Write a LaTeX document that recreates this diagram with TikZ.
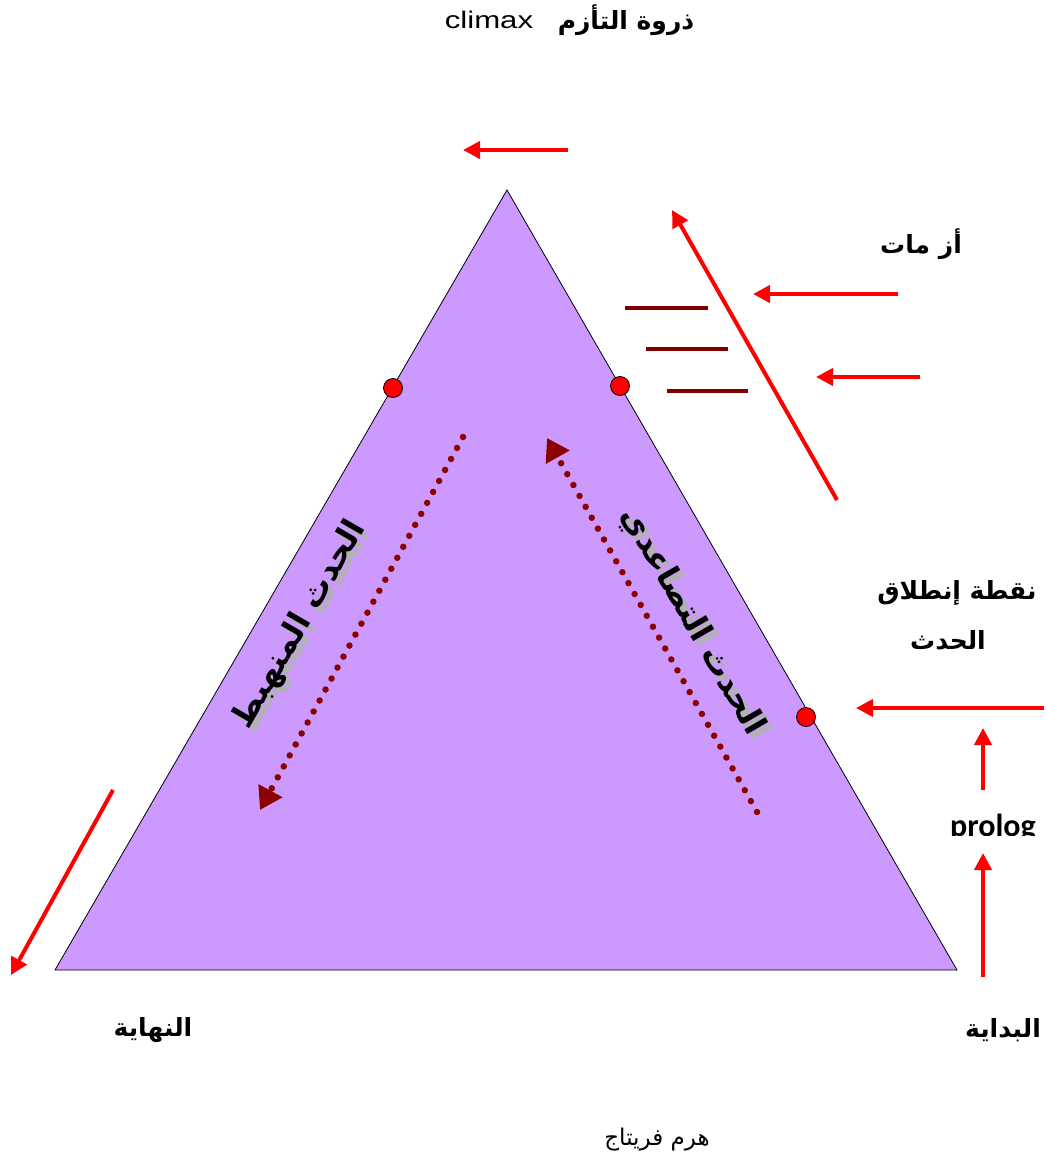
\documentclass[tikz,border=0pt]{standalone}
\usepackage{fontspec}
\setmainfont{Liberation Sans}
\newfontfamily\arabicfont[Script=Arabic]{DejaVu Sans}
\newfontfamily\carlito{Carlito}
\TeXXeTstate=1
\usetikzlibrary{arrows.meta}
\definecolor{lilac}{RGB}{204,153,255}
\definecolor{darkred}{RGB}{128,0,0}
\definecolor{dotred}{RGB}{140,0,0}
\begin{document}
\begin{tikzpicture}[x=1pt,y=-1pt,
  redarrow/.style={draw=red,line width=4pt,-{Triangle[length=17pt,width=17pt]}},
  barline/.style={draw=darkred,line width=4pt},
  dotarrow/.style={draw=dotred,line width=6.5pt,line cap=round,dash pattern=on 0pt off 12.5pt,
     -{Triangle[length=22pt,width=26pt]}},
  reddot/.style={circle,draw=black,fill=red,line width=0.8pt,minimum size=19pt,inner sep=0pt},
  arlabel/.style={font=\arabicfont\bfseries\fontsize{25}{29}\selectfont,inner sep=0pt},
  wordart/.style={font=\arabicfont\bfseries\fontsize{32}{36}\selectfont,inner sep=0pt}
]
\useasboundingbox (0,0) rectangle (1047,1164);
% triangle
\coordinate (A) at (55,970);
\coordinate (T) at (507,190);
\coordinate (C) at (957,970);
\fill[lilac] (A) -- (T) -- (C) -- cycle;
\draw[black,line width=0.8pt] (A) -- (T) -- (C) -- cycle;
% dotted arrows
\coordinate (fa1) at (463,437);
\coordinate (fa2) at (260,810);
\coordinate (ra1) at (757,812);
\coordinate (ra2) at (547,438);
\draw[dotarrow] (fa1) -- (fa2);
\draw[dotarrow] (ra1) -- (ra2);
% red dots
\node[reddot] (d1) at (393,388) {};
\node[reddot] (d2) at (620,386) {};
\node[reddot] (d3) at (806,717) {};
% rotated wordart texts
\node[wordart,text=black!30,rotate=60] (fallsh) at (305,630) {\beginR الحدث المنهبط\endR};
\node[wordart,rotate=60] (fall) at (300,625) {\beginR الحدث المنهبط\endR};
\node[wordart,text=black!30,rotate=-60] (risesh) at (697,627) {\beginR الحدث التصاعدي\endR};
\node[wordart,rotate=-60] (rise) at (692,622) {\beginR الحدث التصاعدي\endR};
% dark red bars
\coordinate (b1a) at (625,308); \coordinate (b1b) at (708,308);
\coordinate (b2a) at (646,349); \coordinate (b2b) at (728,349);
\coordinate (b3a) at (667,391); \coordinate (b3b) at (748,391);
\draw[barline] (b1a) -- (b1b);
\draw[barline] (b2a) -- (b2b);
\draw[barline] (b3a) -- (b3b);
% red arrows
\coordinate (t1) at (568,150); \coordinate (t2) at (463,150);
\draw[redarrow] (t1) -- (t2);
\coordinate (g1) at (837,500); \coordinate (g2) at (672,210);
\draw[redarrow] (g1) -- (g2);
\coordinate (h1) at (898,294); \coordinate (h2) at (753,294);
\draw[redarrow] (h1) -- (h2);
\coordinate (k1) at (920,377); \coordinate (k2) at (816,377);
\draw[redarrow] (k1) -- (k2);
\coordinate (m1) at (1044,708); \coordinate (m2) at (856,708);
\draw[redarrow] (m1) -- (m2);
\coordinate (u1) at (983,790); \coordinate (u2) at (983,728);
\draw[redarrow] (u1) -- (u2);
\coordinate (v1) at (983,977); \coordinate (v2) at (983,853);
\draw[redarrow] (v1) -- (v2);
\coordinate (w1) at (113,790); \coordinate (w2) at (11,975);
\draw[redarrow] (w1) -- (w2);
% labels
\node[inner sep=0pt,xscale=1.3,font=\fontsize{24}{28}\selectfont] (climax) at (489,20) {climax};
\node[arlabel] (zirwa) at (626,20) {\beginR ذروة التأزم\endR};
\node[arlabel] (azamat) at (921,244) {\beginR أز مات\endR};
\node[arlabel] (nuqta) at (957,593) {\beginR نقطة إنطلاق\endR};
\node[arlabel] (hadath) at (948,640) {\beginR الحدث\endR};
\begin{scope}
\clip (900,800) rectangle (1047,835);
\node[inner sep=0pt,anchor=base,font=\carlito\bfseries\fontsize{32}{36}\selectfont] (prolog) at (993,836) {prolog};
\end{scope}
\node[arlabel] (nihaya) at (153,1030) {\beginR النهاية\endR};
\node[arlabel] (bidaya) at (1003,1030) {\beginR البداية\endR};
\node[inner sep=0pt,font=\arabicfont\fontsize{23}{27}\selectfont] (haram) at (657,1140) {\beginR هرم فريتاج\endR};
\end{tikzpicture}
\end{document}
